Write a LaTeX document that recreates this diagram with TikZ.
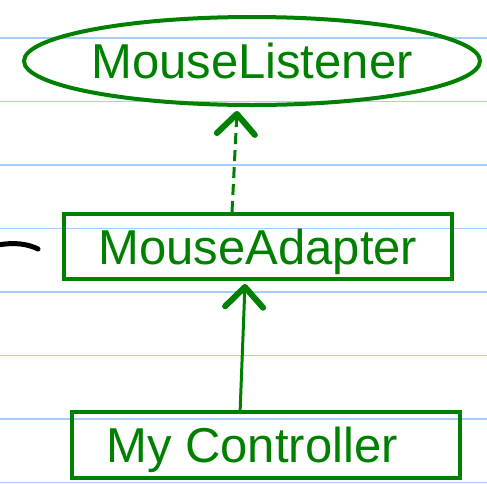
\documentclass[tikz,border=0pt]{standalone}
\usepackage{fontspec}
\setmainfont{Liberation Sans}
\usetikzlibrary{positioning,arrows.meta,shapes.geometric}
\definecolor{pengreen}{RGB}{0,128,0}
\definecolor{ruleblue}{RGB}{165,205,250}

\begin{document}
\begin{tikzpicture}[x=1pt,y=-1pt,
  box/.style={draw=pengreen,line width=4pt,inner sep=0pt,
    text=pengreen,font=\fontsize{49}{49}\selectfont,
    text height=35pt,text depth=0pt},
  pen/.style={draw=pengreen,line width=3pt,
    -{Straight Barb[length=20pt,width=38pt,line width=6pt,round]}}]
\useasboundingbox (0,0) rectangle (487,483);
% Ruled lines of the page
\foreach \k in {0,...,7}
  \draw[ruleblue,line width=1.6pt] (0,{38+63.5*\k}) -- (487,{38+63.5*\k});
% Interface
\node[box,ellipse,minimum width=456pt,minimum height=88pt] (listener) at (252,61) {MouseListener};
% Classes
\node[box,minimum width=388pt,minimum height=65pt] (adapter) at (258,246.5) {MouseAdapter};
\node[box,minimum width=388pt,minimum height=66pt] (controller) at (266,445) {My Controller\hspace*{28pt}};
% Implements (dashed) and extends (solid)
\draw[pen,dash pattern=on 11pt off 6pt] ([xshift=-26pt]adapter.north) -- ([xshift=-15pt,yshift=-4pt]listener.south);
\draw[pen] ([xshift=-26pt,yshift=-4pt]controller.north) -- ([xshift=-13pt,yshift=-3pt]adapter.south);
% Stray stroke on the left
\draw[black,line width=5pt,line cap=round] (-2,245) .. controls (15,242) and (28,244) .. (38,249);
\end{tikzpicture}
\end{document}
